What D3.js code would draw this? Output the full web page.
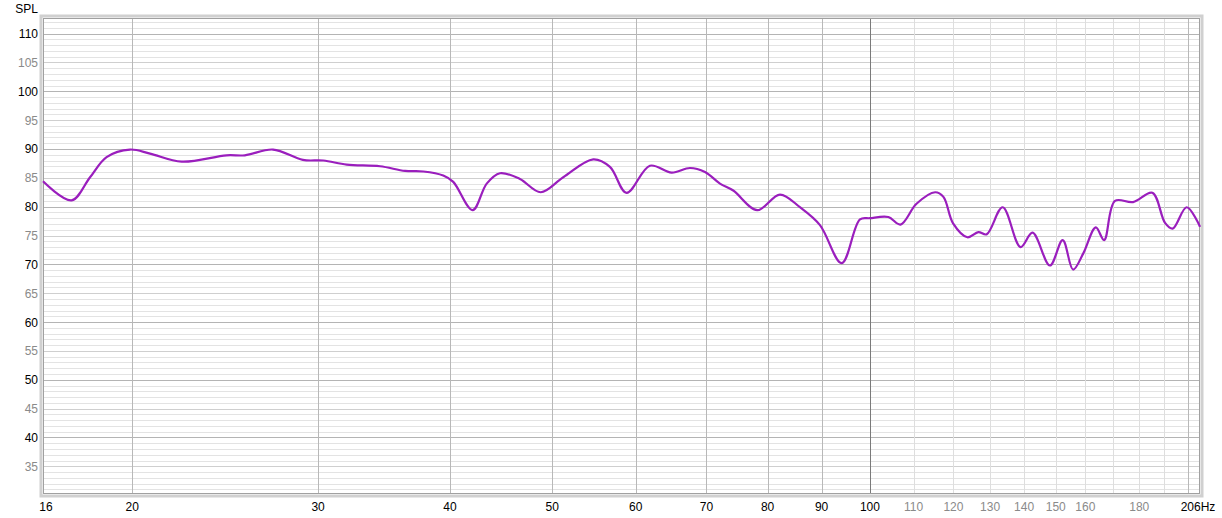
<!DOCTYPE html>
<html>
<head>
<meta charset="utf-8">
<script src="https://cdn.jsdelivr.net/npm/d3@7"></script>
<style>
  body { margin: 0; background: #fff; }
  svg { display: block; font-family: "Liberation Sans", Arial, sans-serif; }
</style>
</head>
<body>
<svg id="graph"></svg>
<script>
var width = 1222, height = 518;

var freq = [16.46, 17.52, 18.24, 18.91, 19.9, 20.79, 22.28, 24.57, 25.57, 27.19,
            29.02, 30.34, 31.93, 34.34, 36.27, 37.74, 39.42, 40.29, 42.03, 43.34,
            44.61, 46.6, 48.76, 51.22, 54.68, 56.71, 58.81, 61.88, 64.88, 67.53,
            69.78, 72.1, 74.22, 78.2, 82.18, 85.84, 89.68, 94.03, 97.86, 100.0,
            104.1, 106.9, 110.7, 115.3, 117.4, 119.9, 123.7, 126.7, 129.0, 133.6,
            138.9, 142.6, 148.1, 152.3, 155.8, 159.3, 163.7, 166.7, 170.7, 177.6,
            185.2, 190.4, 193.6, 199.6, 205.5];
var spl  = [84.4, 81.1, 85.1, 88.6, 89.9, 89.2, 87.8, 88.9, 88.9, 89.9,
            88.1, 88.0, 87.3, 87.0, 86.2, 86.1, 85.4, 84.3, 79.4, 84.0,
            85.8, 84.8, 82.5, 85.1, 88.2, 86.9, 82.4, 87.1, 85.9, 86.7,
            86.0, 84.0, 82.8, 79.4, 82.1, 79.9, 76.8, 70.2, 77.8, 78.0,
            78.2, 76.9, 80.5, 82.5, 81.7, 77.1, 74.7, 75.6, 75.2, 79.9,
            73.0, 75.5, 69.8, 74.2, 69.1, 71.9, 76.4, 74.2, 81.0, 80.8,
            82.4, 77.2, 76.2, 79.9, 76.5];

var xTicksDark  = [20, 30, 40, 50, 60, 70, 80, 90, 200];
var xTicksLight = [110, 120, 130, 140, 150, 160, 170, 180, 190];
var xLabelsBlack = [20, 30, 40, 50, 60, 70, 80, 90, 100];
var xLabelsGrey  = [110, 120, 130, 140, 150, 160, 180];
var yLabels = [35, 40, 45, 50, 55, 60, 65, 70, 75, 80, 85, 90, 95, 100, 105, 110];

var pL = 43, pR = 1200, pT = 18, pB = 494;

var svg = d3.select("#graph")
	.attr("width", width)
	.attr("height", height);

var x = d3.scaleLog().domain([16.46, 205.5]).range([pL, pR]);
var y = d3.scaleLinear().domain([30.2, 112.7]).range([pB, pT]);

// frame shadow
svg.append("rect")
	.attr("x", pL - 2).attr("y", pT - 2)
	.attr("width", pR - pL + 4).attr("height", pB - pT + 4)
	.attr("fill", "none")
	.attr("stroke", "#d0d0d0")
	.attr("stroke-width", 3);
svg.append("rect")
	.attr("x", pL).attr("y", pT)
	.attr("width", pR - pL).attr("height", pB - pT)
	.attr("fill", "#fff");

// horizontal grid, 1 dB
var ySteps = d3.range(31, 113, 1);
svg.selectAll(".hgrid")
	.data(ySteps)
	.enter()
	.append("line")
	.attr("x1", pL).attr("x2", pR)
	.attr("y1", d => Math.round(y(d)) + 0.5)
	.attr("y2", d => Math.round(y(d)) + 0.5)
	.attr("stroke", d => d % 10 == 0 ? "#b4b4b4" : (d % 5 == 0 ? "#cfcfcf" : "#e3e3e3"))
	.attr("stroke-width", 1);

// vertical grid
svg.selectAll(".vlight")
	.data(xTicksLight)
	.enter()
	.append("line")
	.attr("x1", d => Math.round(x(d)) + 0.5).attr("x2", d => Math.round(x(d)) + 0.5)
	.attr("y1", pT).attr("y2", pB)
	.attr("stroke", "#dedede");
svg.selectAll(".vdark")
	.data(xTicksDark)
	.enter()
	.append("line")
	.attr("x1", d => Math.round(x(d)) + 0.5).attr("x2", d => Math.round(x(d)) + 0.5)
	.attr("y1", pT).attr("y2", pB)
	.attr("stroke", "#b8b8b8");
svg.append("line")
	.attr("x1", Math.round(x(100)) + 0.5).attr("x2", Math.round(x(100)) + 0.5)
	.attr("y1", pT).attr("y2", pB)
	.attr("stroke", "#7a7a7a");

// frame border
svg.append("rect")
	.attr("x", pL + 0.5).attr("y", pT + 0.5)
	.attr("width", pR - pL - 1).attr("height", pB - pT - 1)
	.attr("fill", "none")
	.attr("stroke", "#a0a0a0");

// curve
var pts = freq.map((f, i) => [f, spl[i]]);
var line = d3.line()
	.x(d => x(d[0]))
	.y(d => y(d[1]))
	.curve(d3.curveCatmullRom.alpha(0.5));
svg.append("path")
	.datum(pts)
	.attr("d", line)
	.attr("fill", "none")
	.attr("stroke", "#9a1ebd")
	.attr("stroke-width", 2.2)
	.attr("stroke-linejoin", "round");

// y labels
svg.selectAll(".ylab")
	.data(yLabels)
	.enter()
	.append("text")
	.attr("x", 38)
	.attr("y", d => y(d) + 4.5)
	.attr("text-anchor", "end")
	.attr("font-size", "12px")
	.attr("fill", d => d % 10 == 0 ? "#000" : "#8a8a8a")
	.text(d => d);

svg.append("text")
	.attr("x", 38).attr("y", 13)
	.attr("text-anchor", "end")
	.attr("font-size", "12px")
	.attr("fill", "#000")
	.text("SPL");

// x labels
svg.selectAll(".xlab")
	.data(xLabelsBlack)
	.enter()
	.append("text")
	.attr("x", d => x(d))
	.attr("y", 511)
	.attr("text-anchor", "middle")
	.attr("font-size", "12px")
	.attr("fill", "#000")
	.text(d => d);
svg.selectAll(".xlabg")
	.data(xLabelsGrey)
	.enter()
	.append("text")
	.attr("x", d => x(d))
	.attr("y", 511)
	.attr("text-anchor", "middle")
	.attr("font-size", "12px")
	.attr("fill", "#8a8a8a")
	.text(d => d);
svg.append("text")
	.attr("x", 46).attr("y", 511)
	.attr("text-anchor", "middle")
	.attr("font-size", "12px")
	.attr("fill", "#000")
	.text("16");
svg.append("text")
	.attr("x", 1198).attr("y", 511)
	.attr("text-anchor", "middle")
	.attr("font-size", "12px")
	.attr("fill", "#000")
	.text("206Hz");
</script>
</body>
</html>
